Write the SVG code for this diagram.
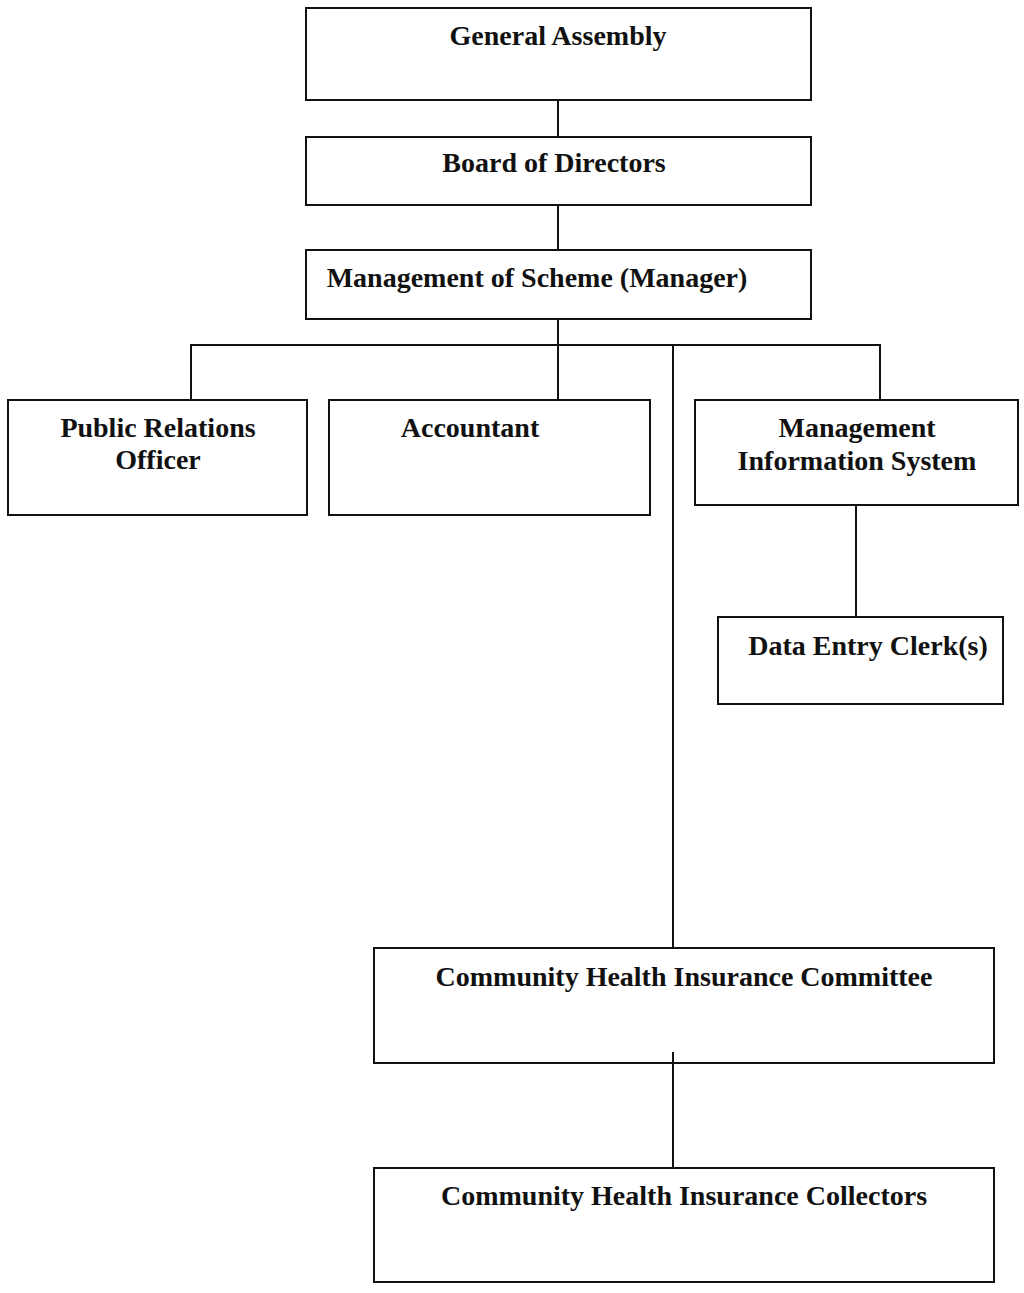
<svg xmlns="http://www.w3.org/2000/svg" width="1024" height="1293" viewBox="0 0 1024 1293">
  <style>
    .box { fill: #ffffff; stroke: #111111; stroke-width: 2; }
    .lbl { font-family: "Liberation Serif", "Times New Roman", serif; font-weight: bold; font-size: 28px; fill: #111111; text-anchor: middle; }
    .conn { stroke: #111111; stroke-width: 2; fill: none; }
  </style>
  <rect width="1024" height="1293" fill="#ffffff"/>

  <g id="general-assembly">
    <rect class="box" x="306" y="8" width="505" height="92"/>
    <text class="lbl" x="558" y="45">General Assembly</text>
  </g>

  <g id="board-of-directors">
    <rect class="box" x="306" y="137" width="505" height="68"/>
    <text class="lbl" x="554" y="172">Board of Directors</text>
  </g>

  <g id="manager">
    <rect class="box" x="306" y="250" width="505" height="69"/>
    <text class="lbl" x="537" y="287">Management of Scheme (Manager)</text>
  </g>

  <g id="public-relations">
    <rect class="box" x="8" y="400" width="299" height="115"/>
    <text class="lbl" x="158" y="437">Public Relations</text>
    <text class="lbl" x="158" y="469">Officer</text>
  </g>

  <g id="accountant">
    <rect class="box" x="329" y="400" width="321" height="115"/>
    <text class="lbl" x="470" y="437">Accountant</text>
  </g>

  <g id="mis">
    <rect class="box" x="695" y="400" width="323" height="105"/>
    <text class="lbl" x="857" y="437">Management</text>
    <text class="lbl" x="857" y="470">Information System</text>
  </g>

  <g id="data-entry">
    <rect class="box" x="718" y="617" width="285" height="87"/>
    <text class="lbl" x="868" y="655">Data Entry Clerk(s)</text>
  </g>

  <g id="committee">
    <rect class="box" x="374" y="948" width="620" height="115"/>
    <text class="lbl" x="684" y="986">Community Health Insurance Committee</text>
  </g>

  <g id="collectors">
    <rect class="box" x="374" y="1168" width="620" height="114"/>
    <text class="lbl" x="684" y="1205">Community Health Insurance Collectors</text>
  </g>

  <!-- connectors, drawn over the boxes so the lower stub shows inside the committee box -->
  <g id="connectors">
    <line class="conn" x1="558" y1="100" x2="558" y2="137"/>
    <line class="conn" x1="558" y1="205" x2="558" y2="250"/>
    <line class="conn" x1="558" y1="319" x2="558" y2="400"/>
    <polyline class="conn" points="191,400 191,345 880,345 880,400"/>
    <line class="conn" x1="673" y1="345" x2="673" y2="948"/>
    <line class="conn" x1="856" y1="505" x2="856" y2="617"/>
    <line class="conn" x1="673" y1="1052" x2="673" y2="1168"/>
  </g>
</svg>
